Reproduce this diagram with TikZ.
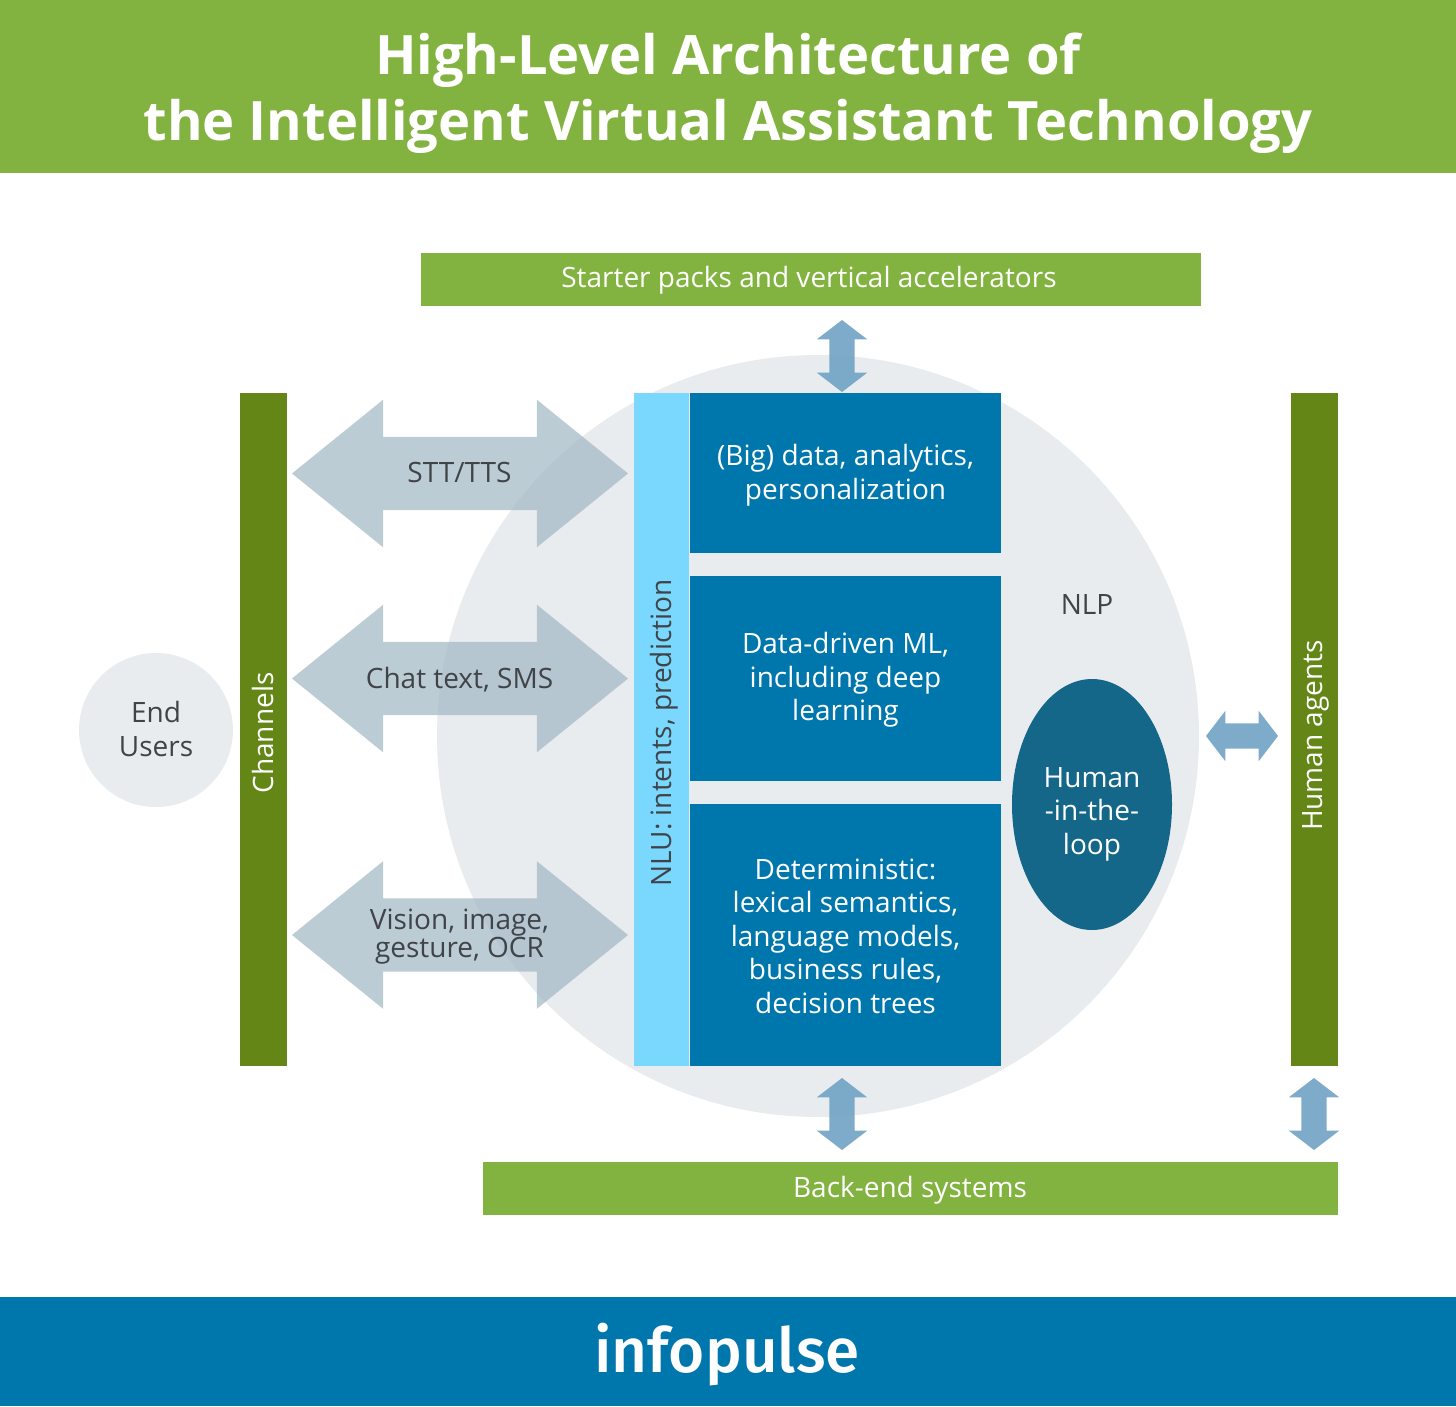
\documentclass[tikz,border=0pt]{standalone}
\usepackage{fontspec}
\setmainfont{Open Sans}
\newfontfamily\logofont{Fira Sans Medium}
\usetikzlibrary{shapes.arrows,shapes.geometric}
\definecolor{bandgreen}{RGB}{130,178,63}
\definecolor{bargreen}{RGB}{100,134,23}
\definecolor{boxblue}{RGB}{0,119,172}
\definecolor{nlucol}{RGB}{122,216,255}
\definecolor{softgrey}{RGB}{232,236,239}
\definecolor{arrowgrey}{RGB}{160,182,195}
\definecolor{arrowblue}{RGB}{112,162,196}
\definecolor{loopcol}{RGB}{21,103,137}
\definecolor{labelcol}{RGB}{64,68,72}
\tikzset{
  band/.style={fill=#1,inner sep=0pt,minimum width=1456pt},
  bar/.style={fill=bandgreen,inner sep=0pt,minimum height=53pt},
  sidebar/.style={fill=bargreen,inner sep=0pt,rotate=90,minimum width=673pt,minimum height=47pt},
  block/.style={fill=boxblue,inner sep=0pt,minimum width=311pt},
  bigarrow/.style={double arrow,fill=arrowgrey,opacity=.7,minimum height=336pt,inner xsep=0pt,
              inner ysep=36.5pt,double arrow head extend=37pt,double arrow tip angle=78},
  smallarrow/.style={double arrow,fill=arrowblue,opacity=.9,minimum height=72pt,inner xsep=0pt,
              inner ysep=12.5pt,double arrow head extend=12.5pt,double arrow tip angle=105},
  whitelabel/.style={inner sep=0pt,text=white,align=center,
              font=\fontsize{28}{33.5}\selectfont},
  darklabel/.style={whitelabel,text=labelcol},
  arrowlabel/.style={darklabel,font=\fontsize{28}{28}\selectfont},
}
\begin{document}
\begin{tikzpicture}[x=1pt,y=-1pt]
  \useasboundingbox (0,0) rectangle (1456,1406);
  % header and footer
  \node[band=bandgreen,minimum height=173pt] (header) at (728,86.5) {};
  \node[whitelabel,font=\fontsize{54.3}{66}\selectfont\bfseries] (title) at (728,93)
    {High-Level Architecture of\\the Intelligent Virtual Assistant Technology};
  \node[band=boxblue,minimum height=109pt] (footer) at (728,1351.5) {};
  \node[whitelabel,font=\fontsize{62}{62}\selectfont\logofont] (logo) at (727,1355) {infopulse};
  % NLP circle and end users
  \node[circle,fill=softgrey,inner sep=0pt,minimum size=762pt] (nlp) at (818,736) {};
  \node[circle,fill=softgrey,inner sep=0pt,minimum size=154pt] (users) at (156,730) {};
  \node[darklabel] (userslabel) at (156,729) {End\\Users};
  \node[darklabel] (nlplabel) at (1087,604) {NLP};
  % bars
  \node[bar,minimum width=780pt] (starter) at (811,279.5) {};
  \node[whitelabel] (starterlabel) at (809,280) {Starter packs and vertical accelerators};
  \node[bar,minimum width=855pt] (backend) at (910.5,1188.5) {};
  \node[whitelabel] (backendlabel) at (910,1190) {Back-end systems};
  \node[sidebar] (channels) at (263.5,729.5) {};
  \node[whitelabel,rotate=90] (channelslabel) at (263,733) {Channels};
  \node[sidebar] (agents) at (1314,729.5) {};
  \node[whitelabel,rotate=90] (agentslabel) at (1316,735.5) {Human agents};
  % blocks
  \node[fill=nlucol,inner sep=0pt,rotate=90,minimum width=673pt,minimum height=55pt] (nlu) at (661.5,729.5) {};
  \node[darklabel,rotate=90] (nlulabel) at (664,733) {NLU: intents, prediction};
  \node[block,minimum height=160pt] (data) at (845.5,473) {};
  \node[whitelabel] (datalabel) at (845.5,475) {(Big) data, analytics,\\personalization};
  \node[block,minimum height=205pt] (ml) at (845.5,678.5) {};
  \node[whitelabel] (mllabel) at (845.5,680) {Data-driven ML,\\including deep\\learning};
  \node[block,minimum height=262pt] (rules) at (845.5,935) {};
  \node[whitelabel] (ruleslabel) at (845.5,936)
    {Deterministic:\\lexical semantics,\\language models,\\business rules,\\decision trees};
  \node[ellipse,fill=loopcol,inner sep=0pt,minimum width=160pt,minimum height=251pt] (loop) at (1092,804.5) {};
  \node[whitelabel] (looplabel) at (1092,814) {Human\\-in-the-\\loop};
  % arrows
  \node[bigarrow] (stt) at (460,473.5) {};
  \node[bigarrow] (chat) at (460,678.5) {};
  \node[bigarrow] (vision) at (460,935) {};
  \node[arrowlabel] (sttlabel) at (459.5,472.5) {STT/TTS};
  \node[arrowlabel] (chatlabel) at (459.5,679.5) {Chat text, SMS};
  \node[arrowlabel] (visionlabel) at (459.5,936.5) {Vision, image,\\gesture, OCR};
  \node[smallarrow,rotate=90] (topflow) at (842,356) {};
  \node[smallarrow,rotate=90] (bottomflow) at (842,1114) {};
  \node[smallarrow,rotate=90] (agentflow) at (1314,1114) {};
  \node[smallarrow] (sideflow) at (1242,736) {};
\end{tikzpicture}
\end{document}
